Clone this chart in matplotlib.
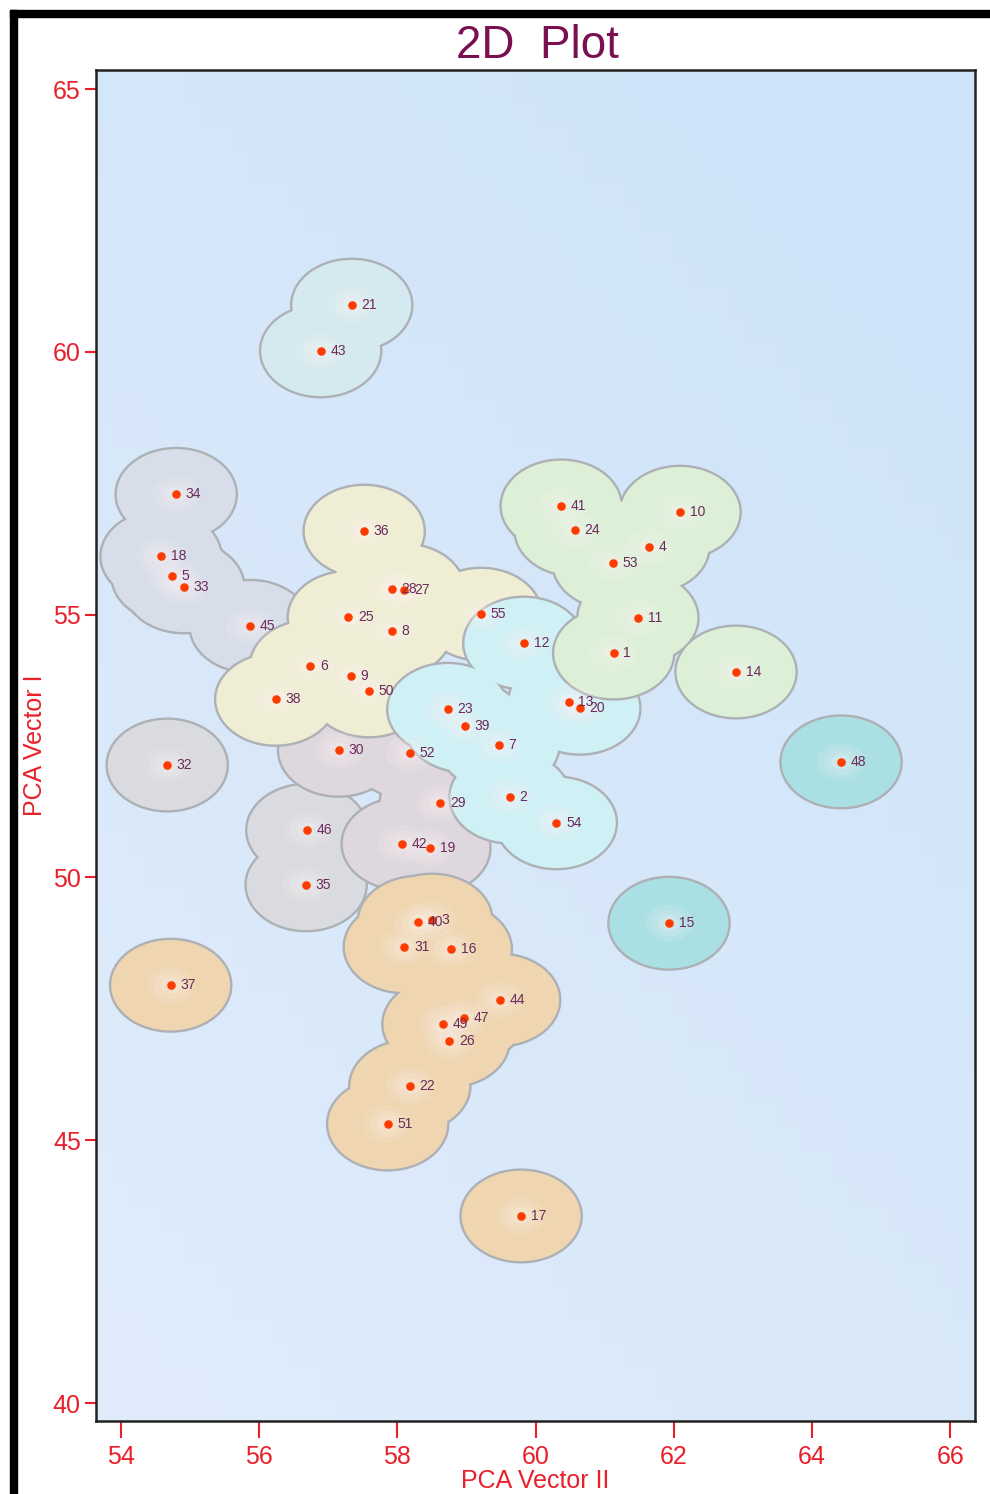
import matplotlib
matplotlib.use("Agg")
import matplotlib.pyplot as plt
import numpy as np
from matplotlib.patches import Circle, Rectangle
from matplotlib.colors import LinearSegmentedColormap

plt.rcParams['font.family'] = ['Liberation Sans Narrow', 'Liberation Sans', 'DejaVu Sans']

# point ids, PCA Vector II (x), PCA Vector I (y), cluster
ids = [21, 43, 34, 18, 5, 33, 45, 36, 28, 27, 25, 8, 55, 12, 6, 9, 50, 38,
       23, 39, 7, 13, 20, 41, 24, 10, 4, 53, 11, 1, 14, 48, 32, 30, 52, 29,
       2, 54, 46, 42, 19, 35, 15, 40, 3, 31, 16, 37, 44, 47, 49, 26, 22, 51, 17]
xs = [57.34, 56.89, 54.80, 54.58, 54.74, 54.91, 55.87, 57.52, 57.92, 58.10,
      57.29, 57.92, 59.21, 59.83, 56.74, 57.33, 57.59, 56.24, 58.73, 58.98,
      59.47, 60.48, 60.64, 60.37, 60.57, 62.09, 61.64, 61.12, 61.48, 61.13,
      62.90, 64.42, 54.67, 57.15, 58.18, 58.62, 59.63, 60.30, 56.69, 58.07,
      58.47, 56.68, 61.93, 58.30, 58.50, 58.10, 58.78, 54.72, 59.48, 58.96,
      58.66, 58.75, 58.18, 57.86, 59.79]
ys = [60.89, 60.02, 57.29, 56.11, 55.73, 55.53, 54.78, 56.59, 55.49, 55.47,
      54.95, 54.69, 55.01, 54.46, 54.02, 53.83, 53.55, 53.39, 53.20, 52.88,
      52.52, 53.34, 53.22, 57.07, 56.61, 56.95, 56.29, 55.98, 54.94, 54.27,
      53.91, 52.20, 52.14, 52.42, 52.37, 51.42, 51.53, 51.04, 50.90, 50.64,
      50.56, 49.86, 49.13, 49.15, 49.19, 48.68, 48.64, 47.95, 47.67, 47.32,
      47.21, 46.89, 46.03, 45.31, 43.56]
groups = ['sky', 'sky', 'slate', 'slate', 'slate', 'slate', 'slate', 'cream', 'cream', 'cream',
          'cream', 'cream', 'cream', 'cyan', 'cream', 'cream', 'cream', 'cream', 'cyan', 'cyan',
          'cyan', 'cyan', 'cyan', 'green', 'green', 'green', 'green', 'green', 'green', 'green',
          'green', 'teal', 'grey', 'pink', 'pink', 'pink', 'cyan', 'cyan', 'grey', 'pink',
          'pink', 'grey', 'teal', 'tan', 'tan', 'tan', 'tan', 'tan', 'tan', 'tan',
          'tan', 'tan', 'tan', 'tan', 'tan']

group_order = ['slate', 'sky', 'grey', 'pink', 'tan', 'cream', 'cyan', 'green', 'teal']
group_colors = {'slate': '#d8dee9', 'sky': '#d5eaf0', 'grey': '#dadbe0', 'pink': '#ded8de',
                'tan': '#efd6b0', 'cream': '#efeed5', 'cyan': '#cff0f4', 'green': '#dcf0d8',
                'teal': '#aae0e3'}
radius = 0.86

fig = plt.figure(figsize=(9.9, 14.94), dpi=100)
ax = fig.add_axes([0.097, 0.0489, 0.888, 0.9041])
ax.set_xlim(53.64, 66.36)
ax.set_ylim(39.66, 65.36)

# background gradient
gx, gy = np.meshgrid(np.linspace(0, 1, 50), np.linspace(0, 1, 50))
grad = 0.6 * gy + 0.4 * gx
bg = LinearSegmentedColormap.from_list('bg', ['#e0ecfb', '#cde3f8'])
ax.imshow(grad, extent=[53.64, 66.36, 39.66, 65.36], origin='lower', cmap=bg,
          aspect='auto', zorder=0)

z = 1
for g in group_order:
    idx = [i for i, gg in enumerate(groups) if gg == g]
    for i in idx:
        ax.add_patch(Circle((xs[i], ys[i]), radius, facecolor='none',
                            edgecolor='#adb0b4', lw=3.4, zorder=z))
    for i in idx:
        ax.add_patch(Circle((xs[i], ys[i]), radius, facecolor=group_colors[g],
                            edgecolor='none', zorder=z + 0.5))
    z += 1

# soft halo around points
for r, a in [(0.35, 0.12), (0.25, 0.15), (0.15, 0.2)]:
    for x, y in zip(xs, ys):
        ax.add_patch(Circle((x, y), r, facecolor='#fff4f4', edgecolor='none',
                            alpha=a, zorder=20))

ax.scatter(xs, ys, s=38, color='#ff3c00', zorder=30, linewidths=0)
for i, x, y in zip(ids, xs, ys):
    ax.text(x + 0.14, y, str(i), fontsize=10, color='#6a2a5a', va='center',
            ha='left', zorder=31, family=['Liberation Sans', 'DejaVu Sans'])

ax.set_xticks([54, 56, 58, 60, 62, 64, 66])
ax.set_yticks([40, 45, 50, 55, 60, 65])
ax.tick_params(axis='x', colors='#e8202a', length=12, width=1.5, labelsize=18, pad=5)
ax.tick_params(axis='y', colors='#e8202a', length=8, width=1.5, labelsize=18, pad=3)
for sp in ax.spines.values():
    sp.set_linewidth(1.8)
    sp.set_color('#222222')
ax.set_xlabel('PCA Vector II', color='#e8202a', fontsize=18, labelpad=0)
ax.set_ylabel('PCA Vector I', color='#e8202a', fontsize=18, labelpad=4)

fig.text(0.543, 0.9695, '2D  Plot', color='#7a1050', fontsize=33, ha='center', va='center')

# outer black frame (top and left)
fig.add_artist(Rectangle((0.0101, 0), 0.0071, 0.9933, transform=fig.transFigure,
                         color='black', zorder=0))
fig.add_artist(Rectangle((0.0101, 0.9886), 0.9899, 0.0047, transform=fig.transFigure,
                         color='black', zorder=0))

fig.savefig('out.png', dpi=100)
